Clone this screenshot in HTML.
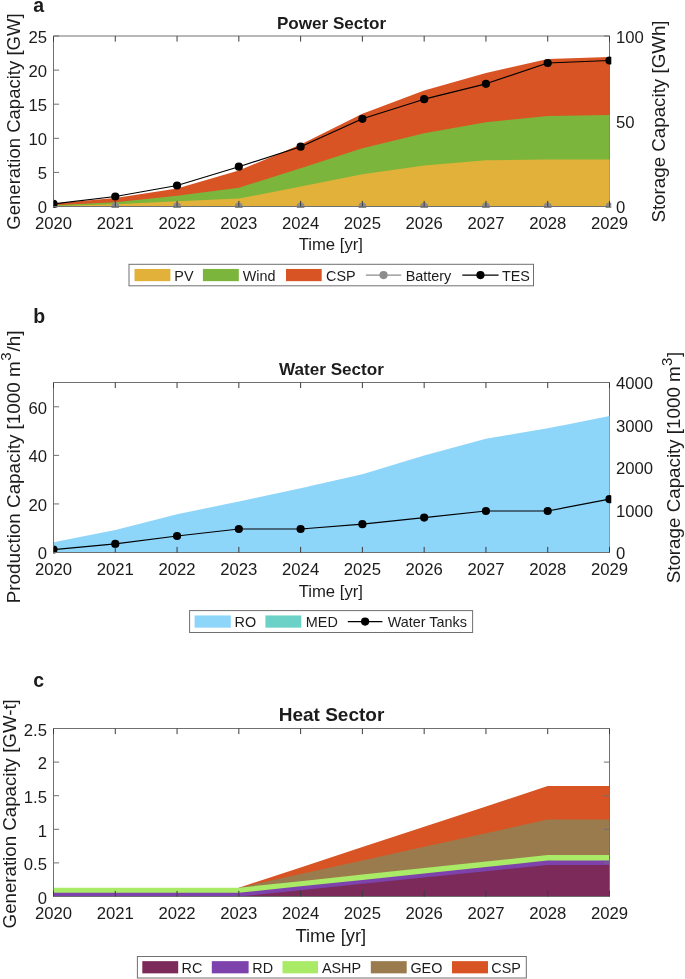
<!DOCTYPE html>
<html><head><meta charset="utf-8"><title>Sector Capacity</title>
<style>
html,body{margin:0;padding:0;background:#fff;}
body{width:685px;height:979px;overflow:hidden;}
svg{display:block;will-change:transform;}
text{font-family:"Liberation Sans", sans-serif;fill:#1c1c1c;}
</style></head><body>
<svg width="685" height="979" viewBox="0 0 685 979">
<defs><clipPath id="ca"><rect x="53.50" y="36.00" width="557.80" height="172.00"/></clipPath>
<clipPath id="cb"><rect x="53.50" y="382.50" width="557.80" height="171.50"/></clipPath>
<clipPath id="cc"><rect x="53.50" y="728.50" width="557.80" height="169.50"/></clipPath></defs>
<line x1="609.50" y1="36.00" x2="609.50" y2="206.50" stroke="#707070" stroke-width="1"/>
<line x1="609.50" y1="206.50" x2="603.90" y2="206.50" stroke="#707070" stroke-width="1"/>
<line x1="609.50" y1="121.25" x2="603.90" y2="121.25" stroke="#707070" stroke-width="1"/>
<line x1="609.50" y1="36.00" x2="603.90" y2="36.00" stroke="#707070" stroke-width="1"/>
<g clip-path="url(#ca)">
<path d="M53.50,203.60 L115.28,198.00 L177.06,188.60 L238.83,170.50 L300.61,144.60 L362.39,113.80 L424.17,90.60 L485.94,73.10 L547.72,59.00 L609.50,56.90 L609.50,206.50 L547.72,206.50 L485.94,206.50 L424.17,206.50 L362.39,206.50 L300.61,206.50 L238.83,206.50 L177.06,206.50 L115.28,206.50 L53.50,206.50 Z" fill="#D95424" stroke="none"/>
<path d="M53.50,205.20 L115.28,202.20 L177.06,195.80 L238.83,187.80 L300.61,168.20 L362.39,148.20 L424.17,133.20 L485.94,122.20 L547.72,116.00 L609.50,115.10 L609.50,206.50 L547.72,206.50 L485.94,206.50 L424.17,206.50 L362.39,206.50 L300.61,206.50 L238.83,206.50 L177.06,206.50 L115.28,206.50 L53.50,206.50 Z" fill="#7CB53B" stroke="none"/>
<path d="M53.50,206.00 L115.28,204.20 L177.06,201.20 L238.83,198.60 L300.61,186.60 L362.39,174.30 L424.17,165.50 L485.94,160.20 L547.72,159.60 L609.50,159.60 L609.50,206.50 L547.72,206.50 L485.94,206.50 L424.17,206.50 L362.39,206.50 L300.61,206.50 L238.83,206.50 L177.06,206.50 L115.28,206.50 L53.50,206.50 Z" fill="#E1B13A" stroke="none"/>
<circle cx="53.50" cy="206.50" r="3.9" fill="#8c8c8c"/>
<circle cx="115.28" cy="206.50" r="3.9" fill="#8c8c8c"/>
<circle cx="177.06" cy="206.50" r="3.9" fill="#8c8c8c"/>
<circle cx="238.83" cy="206.50" r="3.9" fill="#8c8c8c"/>
<circle cx="300.61" cy="206.50" r="3.9" fill="#8c8c8c"/>
<circle cx="362.39" cy="206.50" r="3.9" fill="#8c8c8c"/>
<circle cx="424.17" cy="206.50" r="3.9" fill="#8c8c8c"/>
<circle cx="485.94" cy="206.50" r="3.9" fill="#8c8c8c"/>
<circle cx="547.72" cy="206.50" r="3.9" fill="#8c8c8c"/>
<circle cx="609.50" cy="206.50" r="3.9" fill="#8c8c8c"/>
<path d="M53.50,203.80 L115.28,196.50 L177.06,185.50 L238.83,166.70 L300.61,146.70 L362.39,118.80 L424.17,99.20 L485.94,83.80 L547.72,63.00 L609.50,60.50" fill="none" stroke="#000" stroke-width="1.2" stroke-linejoin="round"/>
<circle cx="53.50" cy="203.80" r="4.1" fill="#000"/>
<circle cx="115.28" cy="196.50" r="4.1" fill="#000"/>
<circle cx="177.06" cy="185.50" r="4.1" fill="#000"/>
<circle cx="238.83" cy="166.70" r="4.1" fill="#000"/>
<circle cx="300.61" cy="146.70" r="4.1" fill="#000"/>
<circle cx="362.39" cy="118.80" r="4.1" fill="#000"/>
<circle cx="424.17" cy="99.20" r="4.1" fill="#000"/>
<circle cx="485.94" cy="83.80" r="4.1" fill="#000"/>
<circle cx="547.72" cy="63.00" r="4.1" fill="#000"/>
<circle cx="609.50" cy="60.50" r="4.1" fill="#000"/>
</g>
<path d="M609.50,36.00 L53.50,36.00 L53.50,206.50 L609.50,206.50" fill="none" stroke="#707070" stroke-width="1"/>
<line x1="53.50" y1="206.50" x2="53.50" y2="200.90" stroke="#3c3c3c" stroke-width="1"/>
<line x1="53.50" y1="36.00" x2="53.50" y2="41.60" stroke="#3c3c3c" stroke-width="1"/>
<text x="53.50" y="229.10" font-size="16.7" text-anchor="middle" font-weight="normal" >2020</text>
<line x1="115.28" y1="206.50" x2="115.28" y2="200.90" stroke="#3c3c3c" stroke-width="1"/>
<line x1="115.28" y1="36.00" x2="115.28" y2="41.60" stroke="#3c3c3c" stroke-width="1"/>
<text x="115.28" y="229.10" font-size="16.7" text-anchor="middle" font-weight="normal" >2021</text>
<line x1="177.06" y1="206.50" x2="177.06" y2="200.90" stroke="#3c3c3c" stroke-width="1"/>
<line x1="177.06" y1="36.00" x2="177.06" y2="41.60" stroke="#3c3c3c" stroke-width="1"/>
<text x="177.06" y="229.10" font-size="16.7" text-anchor="middle" font-weight="normal" >2022</text>
<line x1="238.83" y1="206.50" x2="238.83" y2="200.90" stroke="#3c3c3c" stroke-width="1"/>
<line x1="238.83" y1="36.00" x2="238.83" y2="41.60" stroke="#3c3c3c" stroke-width="1"/>
<text x="238.83" y="229.10" font-size="16.7" text-anchor="middle" font-weight="normal" >2023</text>
<line x1="300.61" y1="206.50" x2="300.61" y2="200.90" stroke="#3c3c3c" stroke-width="1"/>
<line x1="300.61" y1="36.00" x2="300.61" y2="41.60" stroke="#3c3c3c" stroke-width="1"/>
<text x="300.61" y="229.10" font-size="16.7" text-anchor="middle" font-weight="normal" >2024</text>
<line x1="362.39" y1="206.50" x2="362.39" y2="200.90" stroke="#3c3c3c" stroke-width="1"/>
<line x1="362.39" y1="36.00" x2="362.39" y2="41.60" stroke="#3c3c3c" stroke-width="1"/>
<text x="362.39" y="229.10" font-size="16.7" text-anchor="middle" font-weight="normal" >2025</text>
<line x1="424.17" y1="206.50" x2="424.17" y2="200.90" stroke="#3c3c3c" stroke-width="1"/>
<line x1="424.17" y1="36.00" x2="424.17" y2="41.60" stroke="#3c3c3c" stroke-width="1"/>
<text x="424.17" y="229.10" font-size="16.7" text-anchor="middle" font-weight="normal" >2026</text>
<line x1="485.94" y1="206.50" x2="485.94" y2="200.90" stroke="#3c3c3c" stroke-width="1"/>
<line x1="485.94" y1="36.00" x2="485.94" y2="41.60" stroke="#3c3c3c" stroke-width="1"/>
<text x="485.94" y="229.10" font-size="16.7" text-anchor="middle" font-weight="normal" >2027</text>
<line x1="547.72" y1="206.50" x2="547.72" y2="200.90" stroke="#3c3c3c" stroke-width="1"/>
<line x1="547.72" y1="36.00" x2="547.72" y2="41.60" stroke="#3c3c3c" stroke-width="1"/>
<text x="547.72" y="229.10" font-size="16.7" text-anchor="middle" font-weight="normal" >2028</text>
<line x1="609.50" y1="206.50" x2="609.50" y2="200.90" stroke="#3c3c3c" stroke-width="1"/>
<line x1="609.50" y1="36.00" x2="609.50" y2="41.60" stroke="#3c3c3c" stroke-width="1"/>
<text x="609.50" y="229.10" font-size="16.7" text-anchor="middle" font-weight="normal" >2029</text>
<line x1="53.50" y1="206.50" x2="59.10" y2="206.50" stroke="#707070" stroke-width="1"/>
<text x="47.00" y="213.40" font-size="16.7" text-anchor="end" font-weight="normal" >0</text>
<line x1="53.50" y1="172.40" x2="59.10" y2="172.40" stroke="#707070" stroke-width="1"/>
<text x="47.00" y="179.30" font-size="16.7" text-anchor="end" font-weight="normal" >5</text>
<line x1="53.50" y1="138.30" x2="59.10" y2="138.30" stroke="#707070" stroke-width="1"/>
<text x="47.00" y="145.20" font-size="16.7" text-anchor="end" font-weight="normal" >10</text>
<line x1="53.50" y1="104.20" x2="59.10" y2="104.20" stroke="#707070" stroke-width="1"/>
<text x="47.00" y="111.10" font-size="16.7" text-anchor="end" font-weight="normal" >15</text>
<line x1="53.50" y1="70.10" x2="59.10" y2="70.10" stroke="#707070" stroke-width="1"/>
<text x="47.00" y="77.00" font-size="16.7" text-anchor="end" font-weight="normal" >20</text>
<line x1="53.50" y1="36.00" x2="59.10" y2="36.00" stroke="#707070" stroke-width="1"/>
<text x="47.00" y="42.90" font-size="16.7" text-anchor="end" font-weight="normal" >25</text>
<text x="616.00" y="213.40" font-size="16.7" text-anchor="start" font-weight="normal" >0</text>
<text x="616.00" y="128.15" font-size="16.7" text-anchor="start" font-weight="normal" >50</text>
<text x="616.00" y="42.90" font-size="16.7" text-anchor="start" font-weight="normal" >100</text>
<text x="331.50" y="29.10" font-size="17.1" text-anchor="middle" font-weight="bold" fill="#000">Power Sector</text>
<text x="33.20" y="11.60" font-size="19.5" text-anchor="start" font-weight="bold" fill="#000">a</text>
<text x="330.80" y="249.90" font-size="16.7" text-anchor="middle" font-weight="normal" >Time [yr]</text>
<text transform="translate(19.90,229.70) rotate(-90)" x="0" y="0" font-size="18.55" text-anchor="start">Generation Capacity [GW]</text>
<text transform="translate(665.30,222.60) rotate(-90)" x="0" y="0" font-size="18.75" text-anchor="start">Storage Capacity [GWh]</text>
<rect x="129.00" y="264.30" width="404.50" height="21.50" fill="#fff" stroke="#707070" stroke-width="1"/>
<rect x="134.50" y="268.95" width="35.90" height="12.20" fill="#E1B13A"/>
<text x="174.30" y="280.75" font-size="14.4" text-anchor="start" font-weight="normal" fill="#000">PV</text>
<rect x="202.90" y="268.95" width="35.90" height="12.20" fill="#7CB53B"/>
<text x="242.70" y="280.75" font-size="14.4" text-anchor="start" font-weight="normal" fill="#000">Wind</text>
<rect x="286.00" y="268.95" width="35.70" height="12.20" fill="#D95424"/>
<text x="326.10" y="280.75" font-size="14.4" text-anchor="start" font-weight="normal" fill="#000">CSP</text>
<line x1="365.90" y1="275.05" x2="401.20" y2="275.05" stroke="#8c8c8c" stroke-width="1.2"/>
<circle cx="383.55" cy="275.05" r="4.1" fill="#8c8c8c"/>
<text x="405.70" y="280.75" font-size="14.4" text-anchor="start" font-weight="normal" fill="#000">Battery</text>
<line x1="462.30" y1="275.05" x2="498.60" y2="275.05" stroke="#000" stroke-width="1.2"/>
<circle cx="480.45" cy="275.05" r="4.1" fill="#000"/>
<text x="501.90" y="280.75" font-size="14.4" text-anchor="start" font-weight="normal" fill="#000">TES</text>
<line x1="609.50" y1="382.50" x2="609.50" y2="552.50" stroke="#707070" stroke-width="1"/>
<line x1="609.50" y1="552.50" x2="603.90" y2="552.50" stroke="#707070" stroke-width="1"/>
<line x1="609.50" y1="510.00" x2="603.90" y2="510.00" stroke="#707070" stroke-width="1"/>
<line x1="609.50" y1="467.50" x2="603.90" y2="467.50" stroke="#707070" stroke-width="1"/>
<line x1="609.50" y1="425.00" x2="603.90" y2="425.00" stroke="#707070" stroke-width="1"/>
<line x1="609.50" y1="382.50" x2="603.90" y2="382.50" stroke="#707070" stroke-width="1"/>
<g clip-path="url(#cb)">
<path d="M53.50,542.30 L115.28,529.90 L177.06,514.30 L238.83,501.40 L300.61,488.30 L362.39,474.20 L424.17,455.40 L485.94,438.80 L547.72,428.30 L609.50,416.00 L609.50,552.50 L547.72,552.50 L485.94,552.50 L424.17,552.50 L362.39,552.50 L300.61,552.50 L238.83,552.50 L177.06,552.50 L115.28,552.50 L53.50,552.50 Z" fill="#8ED5FA" stroke="none"/>
<path d="M53.50,549.60 L115.28,543.90 L177.06,536.00 L238.83,529.00 L300.61,529.00 L362.39,524.20 L424.17,517.60 L485.94,511.00 L547.72,511.00 L609.50,499.20" fill="none" stroke="#000" stroke-width="1.2" stroke-linejoin="round"/>
<circle cx="53.50" cy="549.60" r="4.1" fill="#000"/>
<circle cx="115.28" cy="543.90" r="4.1" fill="#000"/>
<circle cx="177.06" cy="536.00" r="4.1" fill="#000"/>
<circle cx="238.83" cy="529.00" r="4.1" fill="#000"/>
<circle cx="300.61" cy="529.00" r="4.1" fill="#000"/>
<circle cx="362.39" cy="524.20" r="4.1" fill="#000"/>
<circle cx="424.17" cy="517.60" r="4.1" fill="#000"/>
<circle cx="485.94" cy="511.00" r="4.1" fill="#000"/>
<circle cx="547.72" cy="511.00" r="4.1" fill="#000"/>
<circle cx="609.50" cy="499.20" r="4.1" fill="#000"/>
</g>
<path d="M609.50,382.50 L53.50,382.50 L53.50,552.50 L609.50,552.50" fill="none" stroke="#707070" stroke-width="1"/>
<line x1="53.50" y1="552.50" x2="53.50" y2="546.90" stroke="#3c3c3c" stroke-width="1"/>
<line x1="53.50" y1="382.50" x2="53.50" y2="388.10" stroke="#3c3c3c" stroke-width="1"/>
<text x="53.50" y="575.10" font-size="16.7" text-anchor="middle" font-weight="normal" >2020</text>
<line x1="115.28" y1="552.50" x2="115.28" y2="546.90" stroke="#3c3c3c" stroke-width="1"/>
<line x1="115.28" y1="382.50" x2="115.28" y2="388.10" stroke="#3c3c3c" stroke-width="1"/>
<text x="115.28" y="575.10" font-size="16.7" text-anchor="middle" font-weight="normal" >2021</text>
<line x1="177.06" y1="552.50" x2="177.06" y2="546.90" stroke="#3c3c3c" stroke-width="1"/>
<line x1="177.06" y1="382.50" x2="177.06" y2="388.10" stroke="#3c3c3c" stroke-width="1"/>
<text x="177.06" y="575.10" font-size="16.7" text-anchor="middle" font-weight="normal" >2022</text>
<line x1="238.83" y1="552.50" x2="238.83" y2="546.90" stroke="#3c3c3c" stroke-width="1"/>
<line x1="238.83" y1="382.50" x2="238.83" y2="388.10" stroke="#3c3c3c" stroke-width="1"/>
<text x="238.83" y="575.10" font-size="16.7" text-anchor="middle" font-weight="normal" >2023</text>
<line x1="300.61" y1="552.50" x2="300.61" y2="546.90" stroke="#3c3c3c" stroke-width="1"/>
<line x1="300.61" y1="382.50" x2="300.61" y2="388.10" stroke="#3c3c3c" stroke-width="1"/>
<text x="300.61" y="575.10" font-size="16.7" text-anchor="middle" font-weight="normal" >2024</text>
<line x1="362.39" y1="552.50" x2="362.39" y2="546.90" stroke="#3c3c3c" stroke-width="1"/>
<line x1="362.39" y1="382.50" x2="362.39" y2="388.10" stroke="#3c3c3c" stroke-width="1"/>
<text x="362.39" y="575.10" font-size="16.7" text-anchor="middle" font-weight="normal" >2025</text>
<line x1="424.17" y1="552.50" x2="424.17" y2="546.90" stroke="#3c3c3c" stroke-width="1"/>
<line x1="424.17" y1="382.50" x2="424.17" y2="388.10" stroke="#3c3c3c" stroke-width="1"/>
<text x="424.17" y="575.10" font-size="16.7" text-anchor="middle" font-weight="normal" >2026</text>
<line x1="485.94" y1="552.50" x2="485.94" y2="546.90" stroke="#3c3c3c" stroke-width="1"/>
<line x1="485.94" y1="382.50" x2="485.94" y2="388.10" stroke="#3c3c3c" stroke-width="1"/>
<text x="485.94" y="575.10" font-size="16.7" text-anchor="middle" font-weight="normal" >2027</text>
<line x1="547.72" y1="552.50" x2="547.72" y2="546.90" stroke="#3c3c3c" stroke-width="1"/>
<line x1="547.72" y1="382.50" x2="547.72" y2="388.10" stroke="#3c3c3c" stroke-width="1"/>
<text x="547.72" y="575.10" font-size="16.7" text-anchor="middle" font-weight="normal" >2028</text>
<line x1="609.50" y1="552.50" x2="609.50" y2="546.90" stroke="#3c3c3c" stroke-width="1"/>
<line x1="609.50" y1="382.50" x2="609.50" y2="388.10" stroke="#3c3c3c" stroke-width="1"/>
<text x="609.50" y="575.10" font-size="16.7" text-anchor="middle" font-weight="normal" >2029</text>
<line x1="53.50" y1="552.50" x2="59.10" y2="552.50" stroke="#707070" stroke-width="1"/>
<text x="47.00" y="559.40" font-size="16.7" text-anchor="end" font-weight="normal" >0</text>
<line x1="53.50" y1="503.93" x2="59.10" y2="503.93" stroke="#707070" stroke-width="1"/>
<text x="47.00" y="510.83" font-size="16.7" text-anchor="end" font-weight="normal" >20</text>
<line x1="53.50" y1="455.36" x2="59.10" y2="455.36" stroke="#707070" stroke-width="1"/>
<text x="47.00" y="462.26" font-size="16.7" text-anchor="end" font-weight="normal" >40</text>
<line x1="53.50" y1="406.79" x2="59.10" y2="406.79" stroke="#707070" stroke-width="1"/>
<text x="47.00" y="413.69" font-size="16.7" text-anchor="end" font-weight="normal" >60</text>
<text x="616.00" y="559.40" font-size="16.7" text-anchor="start" font-weight="normal" >0</text>
<text x="616.00" y="516.90" font-size="16.7" text-anchor="start" font-weight="normal" >1000</text>
<text x="616.00" y="474.40" font-size="16.7" text-anchor="start" font-weight="normal" >2000</text>
<text x="616.00" y="431.90" font-size="16.7" text-anchor="start" font-weight="normal" >3000</text>
<text x="616.00" y="389.40" font-size="16.7" text-anchor="start" font-weight="normal" >4000</text>
<text x="331.50" y="375.10" font-size="17.1" text-anchor="middle" font-weight="bold" fill="#000">Water Sector</text>
<text x="33.20" y="323.00" font-size="19.5" text-anchor="start" font-weight="bold" fill="#000">b</text>
<text x="330.80" y="596.60" font-size="16.7" text-anchor="middle" font-weight="normal" >Time [yr]</text>
<text transform="translate(19.90,603.30) rotate(-90)" x="0" y="0" font-size="18.85" text-anchor="start">Production Capacity [1000 m<tspan dx="0.5" dy="-8.8" font-size="15">3</tspan><tspan dx="1.0" dy="8.8">/h]</tspan></text>
<text transform="translate(680.30,583.30) rotate(-90)" x="0" y="0" font-size="18.78" text-anchor="start">Storage Capacity [1000 m<tspan dx="0.3" dy="-8.8" font-size="15">3</tspan><tspan dx="0.6" dy="8.8">]</tspan></text>
<rect x="189.60" y="610.60" width="283.00" height="21.90" fill="#fff" stroke="#707070" stroke-width="1"/>
<rect x="194.60" y="615.45" width="36.20" height="12.20" fill="#8ED5FA"/>
<text x="234.50" y="627.25" font-size="14.4" text-anchor="start" font-weight="normal" fill="#000">RO</text>
<rect x="265.40" y="615.45" width="35.90" height="12.20" fill="#6CD1C6"/>
<text x="305.80" y="627.25" font-size="14.4" text-anchor="start" font-weight="normal" fill="#000">MED</text>
<line x1="347.80" y1="621.55" x2="382.40" y2="621.55" stroke="#000" stroke-width="1.2"/>
<circle cx="365.10" cy="621.55" r="4.1" fill="#000"/>
<text x="387.70" y="627.25" font-size="14.4" text-anchor="start" font-weight="normal" fill="#000">Water Tanks</text>
<g clip-path="url(#cc)">
<path d="M238.83,887.70 L300.61,867.38 L362.39,847.06 L424.17,826.74 L485.94,806.42 L547.72,786.10 L609.50,786.10 L609.50,896.50 L547.72,896.50 L485.94,896.50 L424.17,896.50 L362.39,896.50 L300.61,896.50 L238.83,896.50 Z" fill="#D95424" stroke="none"/>
<path d="M238.83,887.70 L300.61,874.08 L362.39,860.46 L424.17,846.84 L485.94,833.22 L547.72,819.60 L609.50,819.60 L609.50,896.50 L547.72,896.50 L485.94,896.50 L424.17,896.50 L362.39,896.50 L300.61,896.50 L238.83,896.50 Z" fill="#9A7B4E" stroke="none"/>
<path d="M53.50,887.70 L115.28,887.70 L177.06,887.70 L238.83,887.70 L300.61,881.16 L362.39,874.62 L424.17,868.08 L485.94,861.54 L547.72,855.00 L609.50,855.00 L609.50,896.50 L547.72,896.50 L485.94,896.50 L424.17,896.50 L362.39,896.50 L300.61,896.50 L238.83,896.50 L177.06,896.50 L115.28,896.50 L53.50,896.50 Z" fill="#A9EA66" stroke="none"/>
<path d="M53.50,892.80 L115.28,892.80 L177.06,892.80 L238.83,892.80 L300.61,886.34 L362.39,879.88 L424.17,873.42 L485.94,866.96 L547.72,860.50 L609.50,860.50 L609.50,896.50 L547.72,896.50 L485.94,896.50 L424.17,896.50 L362.39,896.50 L300.61,896.50 L238.83,896.50 L177.06,896.50 L115.28,896.50 L53.50,896.50 Z" fill="#7E42AC" stroke="none"/>
<path d="M238.83,896.50 L300.61,890.18 L362.39,883.86 L424.17,877.54 L485.94,871.22 L547.72,864.90 L609.50,864.90 L609.50,896.50 L547.72,896.50 L485.94,896.50 L424.17,896.50 L362.39,896.50 L300.61,896.50 L238.83,896.50 Z" fill="#7B2A5A" stroke="none"/>
</g>
<rect x="53.50" y="728.50" width="556.00" height="168.00" fill="none" stroke="#707070" stroke-width="1"/>
<line x1="53.50" y1="896.50" x2="53.50" y2="890.90" stroke="#3c3c3c" stroke-width="1"/>
<line x1="53.50" y1="728.50" x2="53.50" y2="734.10" stroke="#3c3c3c" stroke-width="1"/>
<text x="53.50" y="919.10" font-size="16.7" text-anchor="middle" font-weight="normal" >2020</text>
<line x1="115.28" y1="896.50" x2="115.28" y2="890.90" stroke="#3c3c3c" stroke-width="1"/>
<line x1="115.28" y1="728.50" x2="115.28" y2="734.10" stroke="#3c3c3c" stroke-width="1"/>
<text x="115.28" y="919.10" font-size="16.7" text-anchor="middle" font-weight="normal" >2021</text>
<line x1="177.06" y1="896.50" x2="177.06" y2="890.90" stroke="#3c3c3c" stroke-width="1"/>
<line x1="177.06" y1="728.50" x2="177.06" y2="734.10" stroke="#3c3c3c" stroke-width="1"/>
<text x="177.06" y="919.10" font-size="16.7" text-anchor="middle" font-weight="normal" >2022</text>
<line x1="238.83" y1="896.50" x2="238.83" y2="890.90" stroke="#3c3c3c" stroke-width="1"/>
<line x1="238.83" y1="728.50" x2="238.83" y2="734.10" stroke="#3c3c3c" stroke-width="1"/>
<text x="238.83" y="919.10" font-size="16.7" text-anchor="middle" font-weight="normal" >2023</text>
<line x1="300.61" y1="896.50" x2="300.61" y2="890.90" stroke="#3c3c3c" stroke-width="1"/>
<line x1="300.61" y1="728.50" x2="300.61" y2="734.10" stroke="#3c3c3c" stroke-width="1"/>
<text x="300.61" y="919.10" font-size="16.7" text-anchor="middle" font-weight="normal" >2024</text>
<line x1="362.39" y1="896.50" x2="362.39" y2="890.90" stroke="#3c3c3c" stroke-width="1"/>
<line x1="362.39" y1="728.50" x2="362.39" y2="734.10" stroke="#3c3c3c" stroke-width="1"/>
<text x="362.39" y="919.10" font-size="16.7" text-anchor="middle" font-weight="normal" >2025</text>
<line x1="424.17" y1="896.50" x2="424.17" y2="890.90" stroke="#3c3c3c" stroke-width="1"/>
<line x1="424.17" y1="728.50" x2="424.17" y2="734.10" stroke="#3c3c3c" stroke-width="1"/>
<text x="424.17" y="919.10" font-size="16.7" text-anchor="middle" font-weight="normal" >2026</text>
<line x1="485.94" y1="896.50" x2="485.94" y2="890.90" stroke="#3c3c3c" stroke-width="1"/>
<line x1="485.94" y1="728.50" x2="485.94" y2="734.10" stroke="#3c3c3c" stroke-width="1"/>
<text x="485.94" y="919.10" font-size="16.7" text-anchor="middle" font-weight="normal" >2027</text>
<line x1="547.72" y1="896.50" x2="547.72" y2="890.90" stroke="#3c3c3c" stroke-width="1"/>
<line x1="547.72" y1="728.50" x2="547.72" y2="734.10" stroke="#3c3c3c" stroke-width="1"/>
<text x="547.72" y="919.10" font-size="16.7" text-anchor="middle" font-weight="normal" >2028</text>
<line x1="609.50" y1="896.50" x2="609.50" y2="890.90" stroke="#3c3c3c" stroke-width="1"/>
<line x1="609.50" y1="728.50" x2="609.50" y2="734.10" stroke="#3c3c3c" stroke-width="1"/>
<text x="609.50" y="919.10" font-size="16.7" text-anchor="middle" font-weight="normal" >2029</text>
<line x1="53.50" y1="896.50" x2="59.10" y2="896.50" stroke="#707070" stroke-width="1"/>
<line x1="609.50" y1="896.50" x2="603.90" y2="896.50" stroke="#707070" stroke-width="1"/>
<text x="47.00" y="903.70" font-size="16.7" text-anchor="end" font-weight="normal" >0</text>
<line x1="53.50" y1="862.90" x2="59.10" y2="862.90" stroke="#707070" stroke-width="1"/>
<line x1="609.50" y1="862.90" x2="603.90" y2="862.90" stroke="#707070" stroke-width="1"/>
<text x="47.00" y="870.10" font-size="16.7" text-anchor="end" font-weight="normal" >0.5</text>
<line x1="53.50" y1="829.30" x2="59.10" y2="829.30" stroke="#707070" stroke-width="1"/>
<line x1="609.50" y1="829.30" x2="603.90" y2="829.30" stroke="#707070" stroke-width="1"/>
<text x="47.00" y="836.50" font-size="16.7" text-anchor="end" font-weight="normal" >1</text>
<line x1="53.50" y1="795.70" x2="59.10" y2="795.70" stroke="#707070" stroke-width="1"/>
<line x1="609.50" y1="795.70" x2="603.90" y2="795.70" stroke="#707070" stroke-width="1"/>
<text x="47.00" y="802.90" font-size="16.7" text-anchor="end" font-weight="normal" >1.5</text>
<line x1="53.50" y1="762.10" x2="59.10" y2="762.10" stroke="#707070" stroke-width="1"/>
<line x1="609.50" y1="762.10" x2="603.90" y2="762.10" stroke="#707070" stroke-width="1"/>
<text x="47.00" y="769.30" font-size="16.7" text-anchor="end" font-weight="normal" >2</text>
<line x1="53.50" y1="728.50" x2="59.10" y2="728.50" stroke="#707070" stroke-width="1"/>
<line x1="609.50" y1="728.50" x2="603.90" y2="728.50" stroke="#707070" stroke-width="1"/>
<text x="47.00" y="735.70" font-size="16.7" text-anchor="end" font-weight="normal" >2.5</text>
<text x="331.50" y="721.00" font-size="19.0" text-anchor="middle" font-weight="bold" fill="#000">Heat Sector</text>
<text x="33.20" y="686.50" font-size="19.5" text-anchor="start" font-weight="bold" fill="#000">c</text>
<text x="330.80" y="941.60" font-size="18.4" text-anchor="middle" font-weight="normal" >Time [yr]</text>
<text transform="translate(15.90,928.40) rotate(-90)" x="0" y="0" font-size="18.7" text-anchor="start">Generation Capacity [GW-t]</text>
<rect x="137.40" y="956.50" width="388.90" height="21.50" fill="#fff" stroke="#707070" stroke-width="1"/>
<rect x="142.30" y="961.15" width="35.90" height="12.20" fill="#7B2A5A"/>
<text x="181.60" y="972.95" font-size="14.4" text-anchor="start" font-weight="normal" fill="#000">RC</text>
<rect x="211.80" y="961.15" width="36.80" height="12.20" fill="#7E42AC"/>
<text x="252.30" y="972.95" font-size="14.4" text-anchor="start" font-weight="normal" fill="#000">RD</text>
<rect x="282.50" y="961.15" width="35.50" height="12.20" fill="#A9EA66"/>
<text x="321.90" y="972.95" font-size="14.4" text-anchor="start" font-weight="normal" fill="#000">ASHP</text>
<rect x="370.80" y="961.15" width="35.90" height="12.20" fill="#9A7B4E"/>
<text x="410.40" y="972.95" font-size="14.4" text-anchor="start" font-weight="normal" fill="#000">GEO</text>
<rect x="452.00" y="961.15" width="36.00" height="12.20" fill="#D95424"/>
<text x="491.30" y="972.95" font-size="14.4" text-anchor="start" font-weight="normal" fill="#000">CSP</text>
</svg>
</body></html>
